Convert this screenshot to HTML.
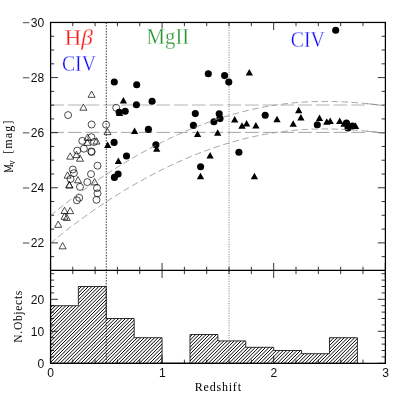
<!DOCTYPE html>
<html><head><meta charset="utf-8"><title>chart</title><style>html,body{margin:0;padding:0;background:#fff;}body{width:407px;height:407px;overflow:hidden;font-family:"Liberation Sans",sans-serif;}</style></head><body>
<svg width="407" height="407" viewBox="0 0 407 407" style="display:block;will-change:transform">
<defs>
<clipPath id="cu"><rect x="50.5" y="22.5" width="334.9" height="247.9"/></clipPath></defs>
<rect width="407" height="407" fill="#fff"/>
<line x1="50.5" x2="365.2" y1="105.00" y2="105.00" stroke="#cdcdcd" stroke-width="1.6" stroke-dasharray="13.7 4.01" stroke-dashoffset="0.3"/>
<line x1="50.5" x2="365.2" y1="132.40" y2="132.40" stroke="#8e8e8e" stroke-width="0.8" stroke-dasharray="13.7 4.01" stroke-dashoffset="0.3"/>
<clipPath id="hc"><path d="M50.45 363.30 L50.45 305.70 L78.35 305.70 L78.35 286.50 L106.26 286.50 L106.26 318.50 L134.16 318.50 L134.16 337.70 L162.07 337.70 L162.07 363.30 L189.97 363.30 L189.97 334.50 L217.88 334.50 L217.88 340.90 L245.78 340.90 L245.78 347.30 L273.68 347.30 L273.68 350.50 L301.59 350.50 L301.59 353.70 L329.49 353.70 L329.49 337.70 L357.40 337.70 L357.40 363.30 Z"/></clipPath>
<path d="M-91.80 363.30 l85.00 -85.00 M-88.35 363.30 l85.00 -85.00 M-84.90 363.30 l85.00 -85.00 M-81.45 363.30 l85.00 -85.00 M-78.00 363.30 l85.00 -85.00 M-74.55 363.30 l85.00 -85.00 M-71.10 363.30 l85.00 -85.00 M-67.65 363.30 l85.00 -85.00 M-64.20 363.30 l85.00 -85.00 M-60.75 363.30 l85.00 -85.00 M-57.30 363.30 l85.00 -85.00 M-53.85 363.30 l85.00 -85.00 M-50.40 363.30 l85.00 -85.00 M-46.95 363.30 l85.00 -85.00 M-43.50 363.30 l85.00 -85.00 M-40.05 363.30 l85.00 -85.00 M-36.60 363.30 l85.00 -85.00 M-33.15 363.30 l85.00 -85.00 M-29.70 363.30 l85.00 -85.00 M-26.25 363.30 l85.00 -85.00 M-22.80 363.30 l85.00 -85.00 M-19.35 363.30 l85.00 -85.00 M-15.90 363.30 l85.00 -85.00 M-12.45 363.30 l85.00 -85.00 M-9.00 363.30 l85.00 -85.00 M-5.55 363.30 l85.00 -85.00 M-2.10 363.30 l85.00 -85.00 M1.35 363.30 l85.00 -85.00 M4.80 363.30 l85.00 -85.00 M8.25 363.30 l85.00 -85.00 M11.70 363.30 l85.00 -85.00 M15.15 363.30 l85.00 -85.00 M18.60 363.30 l85.00 -85.00 M22.05 363.30 l85.00 -85.00 M25.50 363.30 l85.00 -85.00 M28.95 363.30 l85.00 -85.00 M32.40 363.30 l85.00 -85.00 M35.85 363.30 l85.00 -85.00 M39.30 363.30 l85.00 -85.00 M42.75 363.30 l85.00 -85.00 M46.20 363.30 l85.00 -85.00 M49.65 363.30 l85.00 -85.00 M53.10 363.30 l85.00 -85.00 M56.55 363.30 l85.00 -85.00 M60.00 363.30 l85.00 -85.00 M63.45 363.30 l85.00 -85.00 M66.90 363.30 l85.00 -85.00 M70.35 363.30 l85.00 -85.00 M73.80 363.30 l85.00 -85.00 M77.25 363.30 l85.00 -85.00 M80.70 363.30 l85.00 -85.00 M84.15 363.30 l85.00 -85.00 M87.60 363.30 l85.00 -85.00 M91.05 363.30 l85.00 -85.00 M94.50 363.30 l85.00 -85.00 M97.95 363.30 l85.00 -85.00 M101.40 363.30 l85.00 -85.00 M104.85 363.30 l85.00 -85.00 M108.30 363.30 l85.00 -85.00 M111.75 363.30 l85.00 -85.00 M115.20 363.30 l85.00 -85.00 M118.65 363.30 l85.00 -85.00 M122.10 363.30 l85.00 -85.00 M125.55 363.30 l85.00 -85.00 M129.00 363.30 l85.00 -85.00 M132.45 363.30 l85.00 -85.00 M135.90 363.30 l85.00 -85.00 M139.35 363.30 l85.00 -85.00 M142.80 363.30 l85.00 -85.00 M146.25 363.30 l85.00 -85.00 M149.70 363.30 l85.00 -85.00 M153.15 363.30 l85.00 -85.00 M156.60 363.30 l85.00 -85.00 M160.05 363.30 l85.00 -85.00 M163.50 363.30 l85.00 -85.00 M166.95 363.30 l85.00 -85.00 M170.40 363.30 l85.00 -85.00 M173.85 363.30 l85.00 -85.00 M177.30 363.30 l85.00 -85.00 M180.75 363.30 l85.00 -85.00 M184.20 363.30 l85.00 -85.00 M187.65 363.30 l85.00 -85.00 M191.10 363.30 l85.00 -85.00 M194.55 363.30 l85.00 -85.00 M198.00 363.30 l85.00 -85.00 M201.45 363.30 l85.00 -85.00 M204.90 363.30 l85.00 -85.00 M208.35 363.30 l85.00 -85.00 M211.80 363.30 l85.00 -85.00 M215.25 363.30 l85.00 -85.00 M218.70 363.30 l85.00 -85.00 M222.15 363.30 l85.00 -85.00 M225.60 363.30 l85.00 -85.00 M229.05 363.30 l85.00 -85.00 M232.50 363.30 l85.00 -85.00 M235.95 363.30 l85.00 -85.00 M239.40 363.30 l85.00 -85.00 M242.85 363.30 l85.00 -85.00 M246.30 363.30 l85.00 -85.00 M249.75 363.30 l85.00 -85.00 M253.20 363.30 l85.00 -85.00 M256.65 363.30 l85.00 -85.00 M260.10 363.30 l85.00 -85.00 M263.55 363.30 l85.00 -85.00 M267.00 363.30 l85.00 -85.00 M270.45 363.30 l85.00 -85.00 M273.90 363.30 l85.00 -85.00 M277.35 363.30 l85.00 -85.00 M280.80 363.30 l85.00 -85.00 M284.25 363.30 l85.00 -85.00 M287.70 363.30 l85.00 -85.00 M291.15 363.30 l85.00 -85.00 M294.60 363.30 l85.00 -85.00 M298.05 363.30 l85.00 -85.00 M301.50 363.30 l85.00 -85.00 M304.95 363.30 l85.00 -85.00 M308.40 363.30 l85.00 -85.00 M311.85 363.30 l85.00 -85.00 M315.30 363.30 l85.00 -85.00 M318.75 363.30 l85.00 -85.00 M322.20 363.30 l85.00 -85.00 M325.65 363.30 l85.00 -85.00 M329.10 363.30 l85.00 -85.00 M332.55 363.30 l85.00 -85.00 M336.00 363.30 l85.00 -85.00 M339.45 363.30 l85.00 -85.00 M342.90 363.30 l85.00 -85.00 M346.35 363.30 l85.00 -85.00 M349.80 363.30 l85.00 -85.00 M353.25 363.30 l85.00 -85.00 M356.70 363.30 l85.00 -85.00" clip-path="url(#hc)" stroke="#000" stroke-width="1.0" fill="none"/>
<path d="M50.45 363.30 L50.45 305.70 L78.35 305.70 L78.35 286.50 L106.26 286.50 L106.26 318.50 L134.16 318.50 L134.16 337.70 L162.07 337.70 L162.07 363.30 L189.97 363.30 L189.97 334.50 L217.88 334.50 L217.88 340.90 L245.78 340.90 L245.78 347.30 L273.68 347.30 L273.68 350.50 L301.59 350.50 L301.59 353.70 L329.49 353.70 L329.49 337.70 L357.40 337.70 L357.40 363.30 Z" fill="none" stroke="#000" stroke-width="0.8"/>
<line x1="106.26" x2="106.26" y1="22.5" y2="363.3" stroke="#000" stroke-width="0.8" stroke-dasharray="1.5 1.3"/>
<line x1="229.04" x2="229.04" y1="22.5" y2="363.3" stroke="#777" stroke-width="0.9" stroke-dasharray="1.1 1.36"/>
<g stroke="#000" stroke-width="1.25" fill="none">
<rect x="50.6" y="22.45" width="334.8" height="340.9"/>
<line x1="50.6" x2="385.4" y1="270.4" y2="270.4"/>
</g>
<path d="M50.45 22.50 L50.45 30.00 M50.45 262.90 L50.45 277.90 M50.45 363.30 L50.45 355.80 M72.77 22.50 L72.77 26.20 M72.77 266.70 L72.77 274.10 M72.77 363.30 L72.77 359.60 M95.10 22.50 L95.10 26.20 M95.10 266.70 L95.10 274.10 M95.10 363.30 L95.10 359.60 M117.42 22.50 L117.42 26.20 M117.42 266.70 L117.42 274.10 M117.42 363.30 L117.42 359.60 M139.74 22.50 L139.74 26.20 M139.74 266.70 L139.74 274.10 M139.74 363.30 L139.74 359.60 M162.07 22.50 L162.07 30.00 M162.07 262.90 L162.07 277.90 M162.07 363.30 L162.07 355.80 M184.39 22.50 L184.39 26.20 M184.39 266.70 L184.39 274.10 M184.39 363.30 L184.39 359.60 M206.71 22.50 L206.71 26.20 M206.71 266.70 L206.71 274.10 M206.71 363.30 L206.71 359.60 M229.04 22.50 L229.04 26.20 M229.04 266.70 L229.04 274.10 M229.04 363.30 L229.04 359.60 M251.36 22.50 L251.36 26.20 M251.36 266.70 L251.36 274.10 M251.36 363.30 L251.36 359.60 M273.68 22.50 L273.68 30.00 M273.68 262.90 L273.68 277.90 M273.68 363.30 L273.68 355.80 M296.01 22.50 L296.01 26.20 M296.01 266.70 L296.01 274.10 M296.01 363.30 L296.01 359.60 M318.33 22.50 L318.33 26.20 M318.33 266.70 L318.33 274.10 M318.33 363.30 L318.33 359.60 M340.65 22.50 L340.65 26.20 M340.65 266.70 L340.65 274.10 M340.65 363.30 L340.65 359.60 M362.98 22.50 L362.98 26.20 M362.98 266.70 L362.98 274.10 M362.98 363.30 L362.98 359.60 M385.30 22.50 L385.30 30.00 M385.30 262.90 L385.30 277.90 M385.30 363.30 L385.30 355.80 M50.45 22.50 L57.95 22.50 M385.30 22.50 L377.80 22.50 M50.45 36.27 L54.15 36.27 M385.30 36.27 L381.60 36.27 M50.45 50.04 L54.15 50.04 M385.30 50.04 L381.60 50.04 M50.45 63.82 L54.15 63.82 M385.30 63.82 L381.60 63.82 M50.45 77.59 L57.95 77.59 M385.30 77.59 L377.80 77.59 M50.45 91.36 L54.15 91.36 M385.30 91.36 L381.60 91.36 M50.45 105.13 L54.15 105.13 M385.30 105.13 L381.60 105.13 M50.45 118.91 L54.15 118.91 M385.30 118.91 L381.60 118.91 M50.45 132.68 L57.95 132.68 M385.30 132.68 L377.80 132.68 M50.45 146.45 L54.15 146.45 M385.30 146.45 L381.60 146.45 M50.45 160.22 L54.15 160.22 M385.30 160.22 L381.60 160.22 M50.45 173.99 L54.15 173.99 M385.30 173.99 L381.60 173.99 M50.45 187.77 L57.95 187.77 M385.30 187.77 L377.80 187.77 M50.45 201.54 L54.15 201.54 M385.30 201.54 L381.60 201.54 M50.45 215.31 L54.15 215.31 M385.30 215.31 L381.60 215.31 M50.45 229.08 L54.15 229.08 M385.30 229.08 L381.60 229.08 M50.45 242.86 L57.95 242.86 M385.30 242.86 L377.80 242.86 M50.45 256.63 L54.15 256.63 M385.30 256.63 L381.60 256.63 M50.45 363.30 L57.95 363.30 M385.30 363.30 L377.80 363.30 M50.45 356.90 L54.15 356.90 M385.30 356.90 L381.60 356.90 M50.45 350.50 L54.15 350.50 M385.30 350.50 L381.60 350.50 M50.45 344.10 L54.15 344.10 M385.30 344.10 L381.60 344.10 M50.45 337.70 L54.15 337.70 M385.30 337.70 L381.60 337.70 M50.45 331.30 L57.95 331.30 M385.30 331.30 L377.80 331.30 M50.45 324.90 L54.15 324.90 M385.30 324.90 L381.60 324.90 M50.45 318.50 L54.15 318.50 M385.30 318.50 L381.60 318.50 M50.45 312.10 L54.15 312.10 M385.30 312.10 L381.60 312.10 M50.45 305.70 L54.15 305.70 M385.30 305.70 L381.60 305.70 M50.45 299.30 L57.95 299.30 M385.30 299.30 L377.80 299.30 M50.45 292.90 L54.15 292.90 M385.30 292.90 L381.60 292.90 M50.45 286.50 L54.15 286.50 M385.30 286.50 L381.60 286.50 M50.45 280.10 L54.15 280.10 M385.30 280.10 L381.60 280.10 M50.45 273.70 L54.15 273.70 M385.30 273.70 L381.60 273.70" stroke="#000" stroke-width="0.8" fill="none"/>
<g fill="#fff" fill-opacity="0" stroke="#000" stroke-width="0.7">
<circle cx="68.1" cy="115.1" r="3.50"/>
<circle cx="91.6" cy="124.5" r="3.50"/>
<circle cx="106.1" cy="124.7" r="3.50"/>
<circle cx="116.2" cy="107.8" r="3.50"/>
<circle cx="91.4" cy="137.2" r="3.50"/>
<circle cx="82.3" cy="140.9" r="3.50"/>
<circle cx="94.0" cy="142.0" r="3.50"/>
<circle cx="83.9" cy="148.7" r="3.50"/>
<circle cx="77.2" cy="150.6" r="3.50"/>
<circle cx="91.3" cy="151.4" r="3.50"/>
<circle cx="91.6" cy="152.0" r="3.50"/>
<circle cx="97.5" cy="165.7" r="3.50"/>
<circle cx="72.8" cy="169.5" r="3.50"/>
<circle cx="73.9" cy="173.1" r="3.50"/>
<circle cx="91.0" cy="174.1" r="3.50"/>
<circle cx="70.5" cy="179.0" r="3.50"/>
<circle cx="87.3" cy="182.1" r="3.50"/>
<circle cx="80.0" cy="186.9" r="3.50"/>
<circle cx="97.0" cy="188.0" r="3.50"/>
<circle cx="97.5" cy="193.4" r="3.50"/>
<circle cx="96.5" cy="199.8" r="3.50"/>
<circle cx="79.2" cy="197.8" r="3.50"/>
<circle cx="76.9" cy="200.3" r="3.50"/>
<path d="M91.60 91.03 L95.10 97.33 L88.10 97.33 Z M83.40 103.94 L86.90 110.23 L79.90 110.23 Z M107.50 128.34 L111.00 134.64 L104.00 134.64 Z M87.60 134.03 L91.10 140.34 L84.10 140.34 Z M96.50 137.73 L100.00 144.03 L93.00 144.03 Z M87.30 139.03 L90.80 145.34 L83.80 145.34 Z M76.50 151.34 L80.00 157.64 L73.00 157.64 Z M70.20 152.84 L73.70 159.14 L66.70 159.14 Z M80.00 154.94 L83.50 161.24 L76.50 161.24 Z M67.60 171.84 L71.10 178.14 L64.10 178.14 Z M78.00 176.53 L81.50 182.84 L74.50 182.84 Z M94.60 178.53 L98.10 184.84 L91.10 184.84 Z M69.20 181.44 L72.70 187.74 L65.70 187.74 Z M69.50 181.73 L73.00 188.03 L66.00 188.03 Z M64.50 207.23 L68.00 213.53 L61.00 213.53 Z M70.20 207.34 L73.70 213.64 L66.70 213.64 Z M64.50 212.94 L68.00 219.24 L61.00 219.24 Z M66.80 214.13 L70.30 220.44 L63.30 220.44 Z M58.20 221.03 L61.70 227.34 L54.70 227.34 Z M62.60 242.53 L66.10 248.84 L59.10 248.84 Z"/>
</g>
<g fill="#000" stroke="none">
<circle cx="114.3" cy="82.0" r="3.55"/>
<circle cx="136.7" cy="84.8" r="3.55"/>
<circle cx="152.1" cy="101.3" r="3.55"/>
<circle cx="136.4" cy="104.8" r="3.55"/>
<circle cx="125.2" cy="111.3" r="3.55"/>
<circle cx="119.2" cy="112.2" r="3.55"/>
<circle cx="195.3" cy="113.6" r="3.55"/>
<circle cx="193.4" cy="125.4" r="3.55"/>
<circle cx="148.4" cy="129.4" r="3.55"/>
<circle cx="114.1" cy="142.4" r="3.55"/>
<circle cx="155.9" cy="144.8" r="3.55"/>
<circle cx="126.5" cy="156.0" r="3.55"/>
<circle cx="118.1" cy="174.0" r="3.55"/>
<circle cx="114.4" cy="177.4" r="3.55"/>
<circle cx="200.6" cy="166.7" r="3.55"/>
<circle cx="208.3" cy="73.8" r="3.55"/>
<circle cx="224.6" cy="75.6" r="3.55"/>
<circle cx="228.8" cy="82.1" r="3.55"/>
<circle cx="219.2" cy="113.7" r="3.55"/>
<circle cx="220.0" cy="118.6" r="3.55"/>
<circle cx="213.9" cy="121.8" r="3.55"/>
<circle cx="265.2" cy="115.2" r="3.55"/>
<circle cx="238.9" cy="152.2" r="3.55"/>
<circle cx="317.3" cy="124.8" r="3.55"/>
<circle cx="346.5" cy="123.1" r="3.55"/>
<circle cx="348.0" cy="127.9" r="3.55"/>
<circle cx="352.5" cy="126.0" r="3.55"/>
<circle cx="335.7" cy="30.3" r="3.55"/>
<path d="M123.40 97.02 L127.05 103.52 L119.75 103.52 Z M134.60 127.42 L138.25 133.93 L130.95 133.93 Z M197.60 130.43 L201.25 136.93 L193.95 136.93 Z M107.70 141.43 L111.35 147.93 L104.05 147.93 Z M156.70 145.23 L160.35 151.73 L153.05 151.73 Z M118.40 157.62 L122.05 164.12 L114.75 164.12 Z M200.50 172.73 L204.15 179.23 L196.85 179.23 Z M249.30 69.12 L252.95 75.62 L245.65 75.62 Z M234.70 116.12 L238.35 122.62 L231.05 122.62 Z M246.60 120.12 L250.25 126.62 L242.95 126.62 Z M242.00 122.33 L245.65 128.83 L238.35 128.83 Z M255.90 121.92 L259.55 128.43 L252.25 128.43 Z M277.00 115.83 L280.65 122.33 L273.35 122.33 Z M293.20 120.33 L296.85 126.83 L289.55 126.83 Z M217.70 129.23 L221.35 135.73 L214.05 135.73 Z M298.70 106.72 L302.35 113.22 L295.05 113.22 Z M300.90 114.12 L304.55 120.62 L297.25 120.62 Z M319.50 114.42 L323.15 120.92 L315.85 120.92 Z M326.80 118.33 L330.45 124.83 L323.15 124.83 Z M330.20 117.62 L333.85 124.12 L326.55 124.12 Z M339.70 117.42 L343.35 123.92 L336.05 123.92 Z M344.10 120.22 L347.75 126.72 L340.45 126.72 Z M355.60 122.52 L359.25 129.03 L351.95 129.03 Z M119.60 109.42 L123.25 115.92 L115.95 115.92 Z M210.10 152.03 L213.75 158.53 L206.45 158.53 Z M254.40 172.83 L258.05 179.33 L250.75 179.33 Z"/>
</g>
<path d="M50.45 215.79 C51.08 215.27 52.96 213.70 54.21 212.66 C55.47 211.63 56.72 210.61 57.97 209.59 C59.23 208.58 60.48 207.57 61.74 206.57 C62.99 205.57 64.25 204.58 65.50 203.60 C66.75 202.61 68.01 201.64 69.26 200.67 C70.52 199.70 71.77 198.75 73.02 197.79 C74.28 196.84 75.53 195.90 76.79 194.96 C78.04 194.03 79.29 193.10 80.55 192.18 C81.80 191.26 83.06 190.34 84.31 189.44 C85.57 188.53 86.82 187.64 88.07 186.74 C89.33 185.85 90.58 184.97 91.84 184.09 C93.09 183.22 94.34 182.35 95.60 181.48 C96.85 180.62 98.11 179.77 99.36 178.92 C100.61 178.07 101.87 177.23 103.12 176.39 C104.38 175.56 105.63 174.73 106.89 173.91 C108.14 173.09 109.39 172.28 110.65 171.47 C111.90 170.67 113.16 169.87 114.41 169.07 C115.66 168.28 116.92 167.49 118.17 166.71 C119.43 165.94 120.68 165.16 121.93 164.40 C123.19 163.63 124.44 162.87 125.70 162.12 C126.95 161.37 128.21 160.62 129.46 159.88 C130.71 159.14 131.97 158.41 133.22 157.68 C134.48 156.96 135.73 156.24 136.98 155.53 C138.24 154.81 139.49 154.11 140.75 153.41 C142.00 152.71 143.25 152.02 144.51 151.33 C145.76 150.65 147.02 149.97 148.27 149.29 C149.53 148.62 150.78 147.95 152.03 147.30 C153.29 146.64 154.54 145.98 155.80 145.34 C157.05 144.69 158.30 144.05 159.56 143.42 C160.81 142.79 162.07 142.16 163.32 141.54 C164.57 140.92 165.83 140.31 167.08 139.71 C168.34 139.10 169.59 138.50 170.85 137.91 C172.10 137.32 173.35 136.73 174.61 136.15 C175.86 135.58 177.12 135.01 178.37 134.44 C179.62 133.88 180.88 133.32 182.13 132.77 C183.39 132.22 184.64 131.67 185.89 131.14 C187.15 130.60 188.40 130.07 189.66 129.54 C190.91 129.02 192.17 128.51 193.42 128.00 C194.67 127.49 195.93 126.99 197.18 126.49 C198.44 125.99 199.69 125.51 200.94 125.03 C202.20 124.55 203.45 124.07 204.71 123.60 C205.96 123.14 207.21 122.68 208.47 122.23 C209.72 121.77 210.98 121.33 212.23 120.89 C213.49 120.45 214.74 120.02 215.99 119.60 C217.25 119.17 218.50 118.76 219.76 118.35 C221.01 117.94 222.26 117.54 223.52 117.14 C224.77 116.75 226.03 116.36 227.28 115.98 C228.54 115.60 229.79 115.23 231.04 114.87 C232.30 114.50 233.55 114.14 234.81 113.79 C236.06 113.44 237.31 113.10 238.57 112.76 C239.82 112.43 241.08 112.10 242.33 111.78 C243.58 111.46 244.84 111.15 246.09 110.84 C247.35 110.54 248.60 110.24 249.86 109.95 C251.11 109.66 252.36 109.38 253.62 109.10 C254.87 108.83 256.13 108.56 257.38 108.30 C258.63 108.04 259.89 107.78 261.14 107.54 C262.40 107.29 263.65 107.06 264.90 106.83 C266.16 106.60 267.41 106.37 268.67 106.16 C269.92 105.94 271.18 105.74 272.43 105.54 C273.68 105.34 274.94 105.14 276.19 104.96 C277.45 104.77 278.70 104.60 279.95 104.43 C281.21 104.26 282.46 104.09 283.72 103.94 C284.97 103.78 286.22 103.64 287.48 103.50 C288.73 103.36 289.99 103.22 291.24 103.10 C292.50 102.97 293.75 102.85 295.00 102.74 C296.26 102.63 297.51 102.53 298.77 102.43 C300.02 102.33 301.27 102.25 302.53 102.16 C303.78 102.08 305.04 102.01 306.29 101.94 C307.54 101.87 308.80 101.81 310.05 101.76 C311.31 101.70 312.56 101.66 313.82 101.62 C315.07 101.58 316.32 101.54 317.58 101.52 C318.83 101.49 320.09 101.47 321.34 101.46 C322.59 101.45 323.85 101.44 325.10 101.44 C326.36 101.44 327.61 101.45 328.86 101.46 C330.12 101.48 331.37 101.50 332.63 101.52 C333.88 101.55 335.14 101.58 336.39 101.62 C337.64 101.66 338.90 101.71 340.15 101.76 C341.41 101.81 342.66 101.86 343.91 101.93 C345.17 101.99 346.42 102.06 347.68 102.13 C348.93 102.20 350.18 102.28 351.44 102.37 C352.69 102.45 353.95 102.54 355.20 102.64 C356.46 102.73 357.71 102.83 358.96 102.94 C360.22 103.04 361.47 103.16 362.73 103.27 C363.98 103.38 365.23 103.50 366.49 103.63 C367.74 103.75 369.00 103.88 370.25 104.01 C371.50 104.15 372.76 104.28 374.01 104.42 C375.27 104.56 376.52 104.71 377.78 104.86 C379.03 105.00 380.28 105.16 381.54 105.31 C382.79 105.47 384.67 105.71 385.30 105.78" fill="none" stroke="#8a8a8a" stroke-width="0.75" stroke-dasharray="6.6 3.4" clip-path="url(#cu)"/>
<path d="M50.45 243.29 C51.08 242.77 52.96 241.20 54.21 240.16 C55.47 239.13 56.72 238.11 57.97 237.09 C59.23 236.08 60.48 235.07 61.74 234.07 C62.99 233.07 64.25 232.08 65.50 231.10 C66.75 230.11 68.01 229.14 69.26 228.17 C70.52 227.20 71.77 226.25 73.02 225.29 C74.28 224.34 75.53 223.40 76.79 222.46 C78.04 221.53 79.29 220.60 80.55 219.68 C81.80 218.76 83.06 217.84 84.31 216.94 C85.57 216.03 86.82 215.14 88.07 214.24 C89.33 213.35 90.58 212.47 91.84 211.59 C93.09 210.72 94.34 209.85 95.60 208.98 C96.85 208.12 98.11 207.27 99.36 206.42 C100.61 205.57 101.87 204.73 103.12 203.89 C104.38 203.06 105.63 202.23 106.89 201.41 C108.14 200.59 109.39 199.78 110.65 198.97 C111.90 198.17 113.16 197.37 114.41 196.57 C115.66 195.78 116.92 194.99 118.17 194.21 C119.43 193.44 120.68 192.66 121.93 191.90 C123.19 191.13 124.44 190.37 125.70 189.62 C126.95 188.87 128.21 188.12 129.46 187.38 C130.71 186.64 131.97 185.91 133.22 185.18 C134.48 184.46 135.73 183.74 136.98 183.03 C138.24 182.31 139.49 181.61 140.75 180.91 C142.00 180.21 143.25 179.52 144.51 178.83 C145.76 178.15 147.02 177.47 148.27 176.79 C149.53 176.12 150.78 175.45 152.03 174.80 C153.29 174.14 154.54 173.48 155.80 172.84 C157.05 172.19 158.30 171.55 159.56 170.92 C160.81 170.29 162.07 169.66 163.32 169.04 C164.57 168.42 165.83 167.81 167.08 167.21 C168.34 166.60 169.59 166.00 170.85 165.41 C172.10 164.82 173.35 164.23 174.61 163.65 C175.86 163.08 177.12 162.51 178.37 161.94 C179.62 161.38 180.88 160.82 182.13 160.27 C183.39 159.72 184.64 159.17 185.89 158.64 C187.15 158.10 188.40 157.57 189.66 157.04 C190.91 156.52 192.17 156.01 193.42 155.50 C194.67 154.99 195.93 154.49 197.18 153.99 C198.44 153.49 199.69 153.01 200.94 152.53 C202.20 152.05 203.45 151.57 204.71 151.10 C205.96 150.64 207.21 150.18 208.47 149.73 C209.72 149.27 210.98 148.83 212.23 148.39 C213.49 147.95 214.74 147.52 215.99 147.10 C217.25 146.67 218.50 146.26 219.76 145.85 C221.01 145.44 222.26 145.04 223.52 144.64 C224.77 144.25 226.03 143.86 227.28 143.48 C228.54 143.10 229.79 142.73 231.04 142.37 C232.30 142.00 233.55 141.64 234.81 141.29 C236.06 140.94 237.31 140.60 238.57 140.26 C239.82 139.93 241.08 139.60 242.33 139.28 C243.58 138.96 244.84 138.65 246.09 138.34 C247.35 138.04 248.60 137.74 249.86 137.45 C251.11 137.16 252.36 136.88 253.62 136.60 C254.87 136.33 256.13 136.06 257.38 135.80 C258.63 135.54 259.89 135.28 261.14 135.04 C262.40 134.79 263.65 134.56 264.90 134.33 C266.16 134.10 267.41 133.87 268.67 133.66 C269.92 133.44 271.18 133.24 272.43 133.04 C273.68 132.84 274.94 132.64 276.19 132.46 C277.45 132.27 278.70 132.10 279.95 131.93 C281.21 131.76 282.46 131.59 283.72 131.44 C284.97 131.28 286.22 131.14 287.48 131.00 C288.73 130.86 289.99 130.72 291.24 130.60 C292.50 130.47 293.75 130.35 295.00 130.24 C296.26 130.13 297.51 130.03 298.77 129.93 C300.02 129.83 301.27 129.75 302.53 129.66 C303.78 129.58 305.04 129.51 306.29 129.44 C307.54 129.37 308.80 129.31 310.05 129.26 C311.31 129.20 312.56 129.16 313.82 129.12 C315.07 129.08 316.32 129.04 317.58 129.02 C318.83 128.99 320.09 128.97 321.34 128.96 C322.59 128.95 323.85 128.94 325.10 128.94 C326.36 128.94 327.61 128.95 328.86 128.96 C330.12 128.98 331.37 129.00 332.63 129.02 C333.88 129.05 335.14 129.08 336.39 129.12 C337.64 129.16 338.90 129.21 340.15 129.26 C341.41 129.31 342.66 129.36 343.91 129.43 C345.17 129.49 346.42 129.56 347.68 129.63 C348.93 129.70 350.18 129.78 351.44 129.87 C352.69 129.95 353.95 130.04 355.20 130.14 C356.46 130.23 357.71 130.33 358.96 130.44 C360.22 130.54 361.47 130.66 362.73 130.77 C363.98 130.88 365.23 131.00 366.49 131.13 C367.74 131.25 369.00 131.38 370.25 131.51 C371.50 131.65 372.76 131.78 374.01 131.92 C375.27 132.06 376.52 132.21 377.78 132.36 C379.03 132.50 380.28 132.66 381.54 132.81 C382.79 132.97 384.67 133.21 385.30 133.28" fill="none" stroke="#8a8a8a" stroke-width="0.75" stroke-dasharray="6.6 3.4" clip-path="url(#cu)"/>
<path d="M366.49 103.63 L370.25 104.01 L374.01 104.42 L377.78 104.86 L381.54 105.31 L385.30 105.78" fill="none" stroke="#8a8a8a" stroke-width="0.75"/>
<path d="M366.49 131.13 L370.25 131.51 L374.01 131.92 L377.78 132.36 L381.54 132.81 L385.30 133.28" fill="none" stroke="#8a8a8a" stroke-width="0.75"/>
<g font-family="'Liberation Sans', sans-serif" font-size="12.1px" fill="#111">
<text x="44.3" y="26.7" text-anchor="end">30</text>
<line x1="22.9" x2="29.3" y1="22.70" y2="22.70" stroke="#333" stroke-width="0.9"/>
<text x="44.3" y="81.8" text-anchor="end">28</text>
<line x1="22.9" x2="29.3" y1="77.79" y2="77.79" stroke="#333" stroke-width="0.9"/>
<text x="44.3" y="136.9" text-anchor="end">26</text>
<line x1="22.9" x2="29.3" y1="132.88" y2="132.88" stroke="#333" stroke-width="0.9"/>
<text x="44.3" y="192.0" text-anchor="end">24</text>
<line x1="22.9" x2="29.3" y1="187.97" y2="187.97" stroke="#333" stroke-width="0.9"/>
<text x="44.3" y="247.1" text-anchor="end">22</text>
<line x1="22.9" x2="29.3" y1="243.06" y2="243.06" stroke="#333" stroke-width="0.9"/>
<text x="44.3" y="367.6" text-anchor="end">0</text>
<text x="44.3" y="335.6" text-anchor="end">10</text>
<text x="44.3" y="303.6" text-anchor="end">20</text>
<text x="50.7" y="377.4" text-anchor="middle">0</text>
<text x="162.3" y="377.4" text-anchor="middle">1</text>
<text x="273.9" y="377.4" text-anchor="middle">2</text>
<text x="385.5" y="377.4" text-anchor="middle">3</text>
</g>
<g font-family="'Liberation Serif', serif" fill="#000">
<text x="194.8" y="391.2" font-size="12px" textLength="46.2" lengthAdjust="spacing">Redshift</text>
<text transform="translate(22,342.7) rotate(-90)" font-size="11.5px" textLength="52" lengthAdjust="spacing">N.Objects</text>
<g transform="translate(12.4,171.8) rotate(-90)" font-size="12px"><path d="M0.6 0 L0.6 -7.8 L3.3 -1.2 L6 -7.8 L6 0 M-0.3 0 H1.6 M5 0 H6.9 M-0.3 -7.8 H0.8 M5.8 -7.8 H6.9" fill="none" stroke="#000" stroke-width="0.85"/><text x="6.8" y="3" font-size="9.5px">v</text><text x="18" y="0" textLength="33.2" lengthAdjust="spacing">[mag]</text></g>
</g>
<g font-family="'Liberation Serif', serif" font-size="23px" stroke="#fff" stroke-width="0.3">
<text x="64.4" y="44.6" fill="#ff1616" textLength="28.5" lengthAdjust="spacingAndGlyphs">H<tspan font-style="italic">β</tspan></text>
<text x="61.9" y="70.9" fill="#1010ff" textLength="34" lengthAdjust="spacingAndGlyphs">CIV</text>
<text x="146.6" y="44.4" fill="#27952d" textLength="42.6" lengthAdjust="spacingAndGlyphs">MgII</text>
<text x="290.8" y="47.1" fill="#1010ff" textLength="34" lengthAdjust="spacingAndGlyphs">CIV</text>
</g>
</svg>
</body></html>
